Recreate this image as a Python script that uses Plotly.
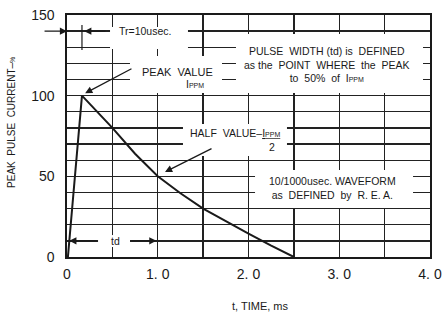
import plotly.graph_objects as go

# ---- data ----
time_ms = [0.01, 0.165, 0.5, 0.75, 1.0, 1.25, 1.5, 1.75, 2.0, 2.25, 2.5]
current_pct = [0, 100, 80, 64, 50, 39.5, 30, 22, 14.5, 7, 0]
x_tickvals = [0, 1, 2, 3, 4]
x_ticktext = ["0", "1. 0", "2. 0", "3. 0", "4. 0"]
y_tickvals = [0, 50, 100, 150]
y_ticktext = ["0", "50", "100", "150"]

FONT = "Liberation Sans, Arial, sans-serif"
INK = "#1a1a1a"
GRID = "#222222"

fig = go.Figure()
fig.add_trace(go.Scatter(x=time_ms, y=current_pct, mode="lines",
                         line=dict(color=INK, width=2),
                         hoverinfo="skip", showlegend=False))

# white label boxes (hide grid behind the text)
boxes = [
    (0.474, 1.333, 128.9, 142.6),   # Tr
    (0.694, 1.708, 101.7, 124.6),   # PEAK VALUE
    (1.862, 3.923, 101.7, 138.2),   # PULSE WIDTH
    (1.278, 2.424, 62.6, 82.4),     # HALF VALUE
    (2.072, 3.813, 30.4, 53.9),     # WAVEFORM
    (0.342, 0.694, 6.2, 13.6),      # td
]
for x0, x1, y0, y1 in boxes:
    fig.add_shape(type="rect", xref="x", yref="y", x0=x0, x1=x1, y0=y0, y1=y1,
                  fillcolor="white", line=dict(width=0), layer="above")

# small vertical marker at end of rise time
fig.add_shape(type="line", xref="x", yref="y", x0=0.165, x1=0.165, y0=128.3, y1=143.8,
              line=dict(color=INK, width=1.2), layer="above")

txt = dict(family=FONT, size=10.5, color=INK)
small = "<span style='font-size:7px'>PPM</span>"

ann = []
# texts
ann.append(dict(x=0.86, y=140, text="Tr=10usec.", showarrow=False, font=txt))
ann.append(dict(x=1.22, y=114.7, text="PEAK  VALUE", showarrow=False,
                font=dict(family=FONT, size=11, color=INK)))
ann.append(dict(x=1.41, y=107.0, text="I" + small, showarrow=False, font=txt))
ann.append(dict(x=2.86, y=119.6,
                text="PULSE  WIDTH (td) is  DEFINED<br>as the  POINT  WHERE  the  PEAK<br>to  50%  of  I" + small,
                showarrow=False, font=txt, align="center"))
ann.append(dict(x=1.85, y=76.9,
                text="HALF  VALUE–<span style='text-decoration:underline'>I" + small + "</span>",
                showarrow=False, font=txt))
ann.append(dict(x=2.26, y=68.2, text="2", showarrow=False, font=txt))
ann.append(dict(x=2.93, y=42.8,
                text="10/1000usec. WAVEFORM<br>as  DEFINED  by  R. E. A.",
                showarrow=False, font=txt, align="center"))
ann.append(dict(x=0.529, y=10, text="td", showarrow=False, font=txt))

# arrows (head at x,y ; tail at ax,ay in data coords)
def arrow(x, y, ax, ay):
    return dict(x=x, y=y, ax=ax, ay=ay, xref="x", yref="y", axref="x", ayref="y",
                text="", showarrow=True, arrowhead=2, arrowsize=1.1,
                arrowwidth=1.3, arrowcolor=INK, standoff=0)

ann.append(arrow(0.0, 140, -0.264, 140))
ann.append(arrow(0.19, 140, 0.44, 140))
ann.append(arrow(0.2, 101.5, 0.727, 117.2))
ann.append(arrow(1.08, 52.7, 1.609, 67.6))
ann.append(arrow(0.025, 10, 0.342, 10))
ann.append(arrow(0.985, 10, 0.694, 10))

# axis titles as annotations
ann.append(dict(xref="paper", yref="paper", x=0.532, y=-0.2025, text="t, TIME, ms",
                xanchor="center", yanchor="middle",
                showarrow=False, font=dict(family=FONT, size=11, color=INK)))
ann.append(dict(xref="paper", yref="paper", x=-0.1515, y=0.554, textangle=-90,
                xanchor="center", yanchor="middle",
                text="PEAK  PULSE  CURRENT–<span style='font-size:7px'>%</span>",
                showarrow=False, font=dict(family=FONT, size=10, color=INK)))

for a in ann:
    a.setdefault("xref", "x")
    a.setdefault("yref", "y")

fig.update_layout(
    width=444, height=317,
    margin=dict(l=67, r=14, t=15, b=60, autoexpand=False),
    paper_bgcolor="white", plot_bgcolor="white",
    annotations=ann,
    showlegend=False,
    xaxis=dict(range=[0, 4], tickvals=x_tickvals, ticktext=x_ticktext,
               showgrid=True, gridcolor=GRID, gridwidth=1.3,
               minor=dict(dtick=0.5, tick0=0, showgrid=True, gridcolor=GRID, gridwidth=1.3),
               showline=True, mirror=True, linecolor=INK, linewidth=1.6,
               zeroline=False, ticks="", ticklabelstandoff=4, automargin=False,
               ticklabeloverflow="allow",
               tickfont=dict(family=FONT, size=14, color=INK), fixedrange=True),
    yaxis=dict(range=[0, 150], tickvals=y_tickvals, ticktext=y_ticktext,
               showgrid=True, gridcolor=GRID, gridwidth=1.3,
               minor=dict(dtick=10, tick0=0, showgrid=True, gridcolor=GRID, gridwidth=1.3),
               showline=True, mirror=True, linecolor=INK, linewidth=1.6,
               zeroline=False, ticks="", ticklabelstandoff=8, automargin=False,
               ticklabeloverflow="allow",
               tickfont=dict(family=FONT, size=14, color=INK), fixedrange=True),
)

# remove the browser's default 8px body margin so the figure fills the window
fig.write_html("out.html",
               config={"displayModeBar": False, "staticPlot": True},
               post_script="document.body.style.margin='0';document.body.style.overflow='hidden';")
